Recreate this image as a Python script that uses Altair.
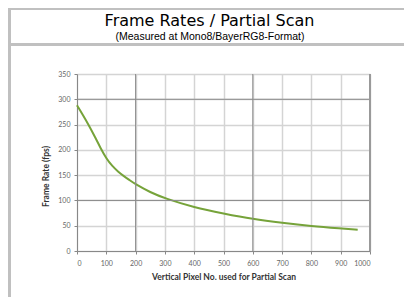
import altair as alt
import pandas as pd

# data
pixels = [0, 20, 40, 60, 80, 100, 120, 140, 160, 180, 200, 250, 300, 400, 500, 600, 700, 800, 900, 958]
fps = [288, 269, 249, 227, 204, 183, 168, 157, 148, 140, 132, 116, 104, 86, 74, 63, 55.5, 49, 44.5, 42]
dark_x = [200, 600]
dark_y = [100, 300]
x_ticks = [0, 100, 200, 300, 400, 500, 600, 700, 800, 900, 1000]
y_ticks = [0, 50, 100, 150, 200, 250, 300, 350]
title_text = "Frame Rates / Partial Scan"
subtitle_text = "(Measured at Mono8/BayerRG8-Format)"
x_title = "Vertical Pixel No. used for Partial Scan"
y_title = "Frame Rate (fps)"

df = pd.DataFrame({"px": pixels, "fps": fps})
W, H = 293, 177
PL, PT = 69, 66
TOTW, TOTH = 396, 289

xs = alt.Scale(domain=[0, 1000], nice=False)
ys = alt.Scale(domain=[0, 350], nice=False)

common_axis = dict(grid=True, gridColor="#d4d4d4", gridWidth=1.5,
                   domainColor="#888888", tickColor="#888888", tickSize=3,
                   labelFont="Lato", labelFontSize=7, labelColor="#666666",
                   labelOverlap=False, format="d",
                   titleFont="Lato", titleFontSize=8.5, titleFontWeight="bold", titleColor="#333333")
x_axis = alt.Axis(values=x_ticks, labelPadding=5, titlePadding=6, **common_axis)
y_axis = alt.Axis(values=y_ticks, labelPadding=4, titleX=-27, titleY=102, **common_axis)

line = alt.Chart(df).mark_line(color="#76a33a", strokeWidth=2, interpolate="basis").encode(
    x=alt.X("px:Q", scale=xs, title=x_title, axis=x_axis),
    y=alt.Y("fps:Q", scale=ys, title=y_title, axis=y_axis),
)

dxdf = pd.DataFrame({"v": dark_x})
dydf = pd.DataFrame({"v": dark_y})
vr = alt.Chart(dxdf).mark_rule(color="#8a8a8a", strokeWidth=1).encode(
    x=alt.X("v:Q", scale=xs, title=x_title, axis=x_axis))
hr = alt.Chart(dydf).mark_rule(color="#8a8a8a", strokeWidth=1).encode(
    y=alt.Y("v:Q", scale=ys, title=y_title, axis=y_axis))

frame_right = alt.Chart(df).mark_rule(color="#999999", strokeWidth=1).encode(
    x=alt.value(W), y=alt.value(0), y2=alt.value(H))

border_col = "#c0c0c0"
left_border = alt.Chart(df).mark_rule(color=border_col, strokeWidth=3).encode(
    x=alt.value(-PL + 1.5), y=alt.value(-PT), y2=alt.value(TOTH - PT))
top_border = alt.Chart(df).mark_rule(color=border_col, strokeWidth=3).encode(
    y=alt.value(-PT + 0.5), x=alt.value(-PL), x2=alt.value(TOTW - PL))
divider = alt.Chart(df).mark_rule(color=border_col, strokeWidth=3).encode(
    y=alt.value(-29.5), x=alt.value(-PL), x2=alt.value(TOTW - PL))

t1 = alt.Chart(pd.DataFrame({"t": [title_text]})).mark_text(
    font="DejaVu Sans", fontSize=16, color="#000000", align="center", baseline="alphabetic").encode(
    text="t:N", x=alt.value(132.5), y=alt.value(-48.5))
t2 = alt.Chart(pd.DataFrame({"t": [subtitle_text]})).mark_text(
    font="Liberation Sans", fontSize=10.5, color="#000000", align="center", baseline="alphabetic").encode(
    text="t:N", x=alt.value(133), y=alt.value(-34))

chart = alt.layer(line, vr, hr, frame_right, left_border, top_border, divider, t1, t2).properties(
    width=W, height=H,
    autosize=alt.AutoSizeParams(type="none"),
    padding={"left": PL, "top": PT, "right": TOTW - PL - W, "bottom": TOTH - PT - H},
).configure_view(stroke=None).configure(background="white")

chart.save("out.html", embed_options={"renderer": "svg", "actions": False})
